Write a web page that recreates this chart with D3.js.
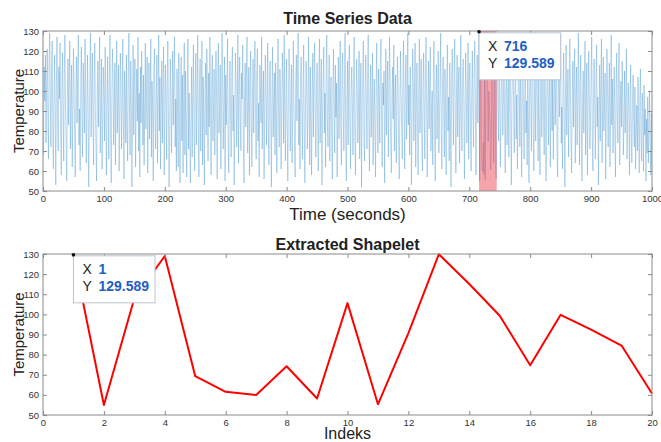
<!doctype html>
<html lang="en">
<head>
<meta charset="UTF-8">
<script src="https://cdn.jsdelivr.net/npm/d3@7"></script>
<style>
  body { margin: 0; background: #fff; }
  svg { font-family: "Liberation Sans", Arial, Helvetica, sans-serif; }
  .axis text { fill: #333; font-size: 9.5px; }
  .axis path, .axis line { stroke: #8a8a8a; }
  .title { font-size: 16px; font-weight: bold; fill: #222; }
  .label { font-size: 17px; fill: #222; }
  .ylabel { font-size: 15px; fill: #222; }
  .tipKey { font-size: 14px; fill: #222; }
  .tipVal { font-size: 14px; font-weight: bold; fill: #1f5fbf; }
</style>
</head>
<body>
<svg id="chart" width="661" height="442"></svg>
<script>
// time series, t = 1..715
let seriesA = [
  68,112,95,118,74,103,121,88,66,115,129,97,72,108,125,83,61,99,118,90,
  53,104,127,85,70,112,96,124,78,58,101,119,87,65,110,128,92,74,55,97,
  116,83,106,125,71,94,113,62,88,121,103,76,57,99,117,84,109,128,73,91,
  60,105,122,89,67,114,98,79,126,102,64,87,118,95,52,83,111,129,77,100,
  119,86,63,108,124,91,72,55,97,115,82,106,127,69,93,116,61,84,112,99,
  75,122,103,58,88,117,94,66,109,128,81,54,96,121,107,73,90,114,63,101,
  125,79,98,113,60,85,119,104,71,93,126,87,56,110,97,74,118,83,65,107,
  129,92,68,115,100,52,89,123,78,105,116,62,94,111,85,127,70,99,57,112,
  84,120,96,73,108,63,91,124,81,102,117,59,88,114,76,98,126,67,105,93,
  55,110,121,86,71,99,118,64,95,128,80,107,61,92,115,74,103,122,58,89,
  113,97,66,104,125,88,52,79,116,101,69,94,120,83,108,127,72,96,60,111,
  87,62,119,91,54,100,117,75,108,59,103,124,68,110,83,57,105,126,71,99,
  76,54,89,112,67,98,123,81,60,104,119,73,95,128,86,57,101,116,70,92,
  125,63,107,88,53,99,114,78,121,96,65,109,82,127,94,58,103,118,75,90,
  111,68,84,120,97,56,106,124,79,92,113,61,87,129,100,71,96,117,55,108,
  83,102,126,74,59,95,115,88,67,110,122,80,98,53,86,119,105,72,93,128,
  64,101,117,85,70,109,96,123,77,54,99,114,82,106,127,69,91,112,58,103,
  120,87,62,97,116,79,105,125,90,66,108,121,75,94,57,113,99,84,127,71,
  93,110,56,88,118,102,73,96,124,81,63,107,115,86,52,100,122,77,95,109,
  68,114,91,59,103,126,84,72,111,97,61,89,119,105,74,128,92,65,101,116,
  82,55,98,121,108,70,93,113,64,87,125,99,76,57,104,118,85,110,129,73,
  96,61,107,117,89,66,100,123,80,54,92,115,103,71,88,127,95,63,112,84,
  58,101,119,77,106,124,90,67,97,114,83,60,109,126,74,94,116,53,88,105,
  122,79,99,62,111,128,86,72,103,118,65,95,107,81,56,100,121,91,69,113,
  87,104,57,93,117,76,98,125,82,63,110,119,89,70,102,129,78,55,96,115,
  73,108,123,84,61,99,112,94,68,105,127,80,58,91,116,101,74,88,120,66,
  97,114,52,86,109,125,79,65,103,118,92,71,107,128,85,60,98,113,77,94,
  119,63,90,106,81,57,101,124,88,69,111,97,74,116,126,83,62,104,93,110,
  54,95,121,78,100,115,67,89,127,103,72,59,98,112,86,123,70,96,108,64,
  85,117,102,73,56,94,120,99,80,66,109,125,88,61,105,118,76,92,129,83,
  103,68,112,96,53,87,121,107,75,98,124,62,90,114,83,58,101,126,79,95,
  116,72,60,104,119,88,66,110,127,93,57,97,115,81,106,122,70,89,100,63,
  108,125,84,55,99,113,76,94,120,69,86,104,129,78,61,102,117,91,67,111,
  92,58,103,123,80,97,65,114,87,52,106,121,96,73,109,126,85,59,99,118,
  77,101,112,64,90,128,83,70,107,116,95,56,88,119,102,74,97,124,66,105,
  114,81,60,99,120,87,72,109,125,93,58,96,118,84,102
];

// extracted shapelet, t = 716..735 (index 1..20 in the lower plot)
let shapelet = [129.589,55,108,129,69.3,61.5,59.9,74.2,58.2,105.6,
                55.3,90.7,129.9,115.1,99.3,74.7,99.8,92.4,84.5,60.7];

// time series, t = 736..1000
let seriesB = [
  71,108,123,89,64,97,115,80,56,103,126,92,75,111,99,62,86,119,105,78,
  94,128,83,59,100,117,73,91,113,67,104,121,88,53,96,110,125,82,69,107,
  118,76,98,61,89,124,102,72,114,93,57,106,127,85,66,101,116,79,95,63,
  110,87,54,99,120,94,70,108,129,81,60,97,112,75,103,122,90,65,115,84,
  58,102,118,77,93,125,86,68,109,96,55,88,121,104,73,99,114,62,91,127,
  80,106,66,95,117,83,101,124,70,57,98,113,87,109,128,74,92,61,105,119,
  85,52,100,123,78,96,111,67,90,126,103,76,59,94,115,82,107,121,64,97,
  112,73,88,129,99,63,104,118,86,55,93,110,79,101,125,68,96,114,58,89,
  120,102,71,84,108,127,77,60,99,116,91,66,105,123,82,97,53,88,113,75,
  103,126,64,92,117,80,95,109,56,86,121,100,72,98,114,62,90,128,83,106,
  69,94,112,78,57,101,119,87,74,108,124,63,91,105,82,115,96,68,86,110,
  79,99,121,66,88,104,92,58,97,113,76,64,95,108,85,72,102,61,80,93,
  70,107,84,59,96,111,74,65,99,88,60,103,78,91,55,86,69,97,64,82,
  100,75,58,89,61
];

let shapeletStart = 716;   // highlighted window in the upper plot
let shapeletEnd = 745;
let topXTicks = [0,100,200,300,400,500,600,700,800,900,1000];
let botXTicks = [0,2,4,6,8,10,12,14,16,18,20];
let yTicks = [50,60,70,80,90,100,110,120,130];

let series = seriesA.concat(shapelet, seriesB);
let svg = d3.select("#chart");

// shared horizontal extent of both axes
let left = 43, right = 652;

// draws the box, ticks and labels of one MATLAB-like axes
function drawAxes(g, x, y, xTicks, top, bottom) {
  let tl = 4;
  g.append("g").attr("class", "axis")
    .attr("transform", "translate(0," + bottom + ")")
    .call(d3.axisBottom(x).tickValues(xTicks).tickSizeInner(-tl).tickSizeOuter(0).tickPadding(4).tickFormat(d3.format("d")));
  g.append("g").attr("class", "axis")
    .attr("transform", "translate(0," + top + ")")
    .call(d3.axisTop(x).tickValues(xTicks).tickSizeInner(-tl).tickSizeOuter(0).tickFormat(""));
  g.append("g").attr("class", "axis")
    .attr("transform", "translate(" + left + ",0)")
    .call(d3.axisLeft(y).tickValues(yTicks).tickSizeInner(-tl).tickSizeOuter(0).tickPadding(4));
  g.append("g").attr("class", "axis")
    .attr("transform", "translate(" + right + ",0)")
    .call(d3.axisRight(y).tickValues(yTicks).tickSizeInner(-tl).tickSizeOuter(0).tickFormat(""));
  g.selectAll(".domain").remove();
  g.append("rect")
    .attr("x", left).attr("y", top)
    .attr("width", right - left).attr("height", bottom - top)
    .attr("fill", "none").attr("stroke", "#8a8a8a").attr("stroke-width", 1);
}

// datatip: black marker plus white box with X / Y values
function drawTip(g, px, py, xVal, yVal) {
  let tip = g.append("g");
  let box = tip.append("rect")
    .attr("x", px).attr("y", py + 1)
    .attr("height", 47)
    .attr("fill", "#fff").attr("stroke", "#b9c4d0").attr("stroke-width", 1);
  tip.append("text").attr("class", "tipKey").attr("x", px + 9).attr("y", py + 19).text("X");
  tip.append("text").attr("class", "tipKey").attr("x", px + 9).attr("y", py + 36).text("Y");
  let v1 = tip.append("text").attr("class", "tipVal").attr("x", px + 25).attr("y", py + 19).text(xVal);
  let v2 = tip.append("text").attr("class", "tipVal").attr("x", px + 25).attr("y", py + 36).text(yVal);
  let w = Math.max(v1.node().getComputedTextLength(), v2.node().getComputedTextLength());
  box.attr("width", w + 31);
  tip.append("circle").attr("cx", px).attr("cy", py).attr("r", 1.8).attr("fill", "#111");
}

// ---- upper plot: full time series ----
let topT = 31, topB = 191;
let x1 = d3.scaleLinear().domain([0, 1000]).range([left, right]);
let y1 = d3.scaleLinear().domain([50, 130]).range([topB, topT]);
let g1 = svg.append("g");

g1.append("clipPath").attr("id", "clip1")
  .append("rect").attr("x", left).attr("y", topT).attr("width", right - left).attr("height", topB - topT);

g1.append("path")
  .datum(series)
  .attr("clip-path", "url(#clip1)")
  .attr("fill", "none")
  .attr("stroke", "#2f86c8")
  .attr("stroke-width", 0.5)
  .attr("stroke-opacity", 0.65)
  .attr("d", d3.line().x(function(d, i) { return x1(i + 1); }).y(function(d) { return y1(d); }));

g1.append("rect")
  .attr("x", x1(shapeletStart)).attr("y", topT)
  .attr("width", x1(shapeletEnd) - x1(shapeletStart)).attr("height", topB - topT)
  .attr("fill", "#ee3344").attr("fill-opacity", 0.45);

drawAxes(g1, x1, y1, topXTicks, topT, topB);

g1.append("text").attr("class", "title").attr("x", (left + right) / 2).attr("y", 24)
  .attr("text-anchor", "middle").text("Time Series Data");
g1.append("text").attr("class", "label").attr("x", (left + right) / 2).attr("y", 220)
  .attr("text-anchor", "middle").text("Time (seconds)");
g1.append("text").attr("class", "ylabel")
  .attr("transform", "translate(24," + (topT + topB) / 2 + ") rotate(-90)")
  .attr("text-anchor", "middle").text("Temperature");

drawTip(g1, x1(shapeletStart), y1(shapelet[0]), "716", "129.589");

// ---- lower plot: extracted shapelet ----
let botT = 254, botB = 415;
let x2 = d3.scaleLinear().domain([0, 20]).range([left, right]);
let y2 = d3.scaleLinear().domain([50, 130]).range([botB, botT]);
let g2 = svg.append("g");

g2.append("path")
  .datum(shapelet)
  .attr("fill", "none")
  .attr("stroke", "#ff0000")
  .attr("stroke-width", 2)
  .attr("stroke-linejoin", "round")
  .attr("d", d3.line().x(function(d, i) { return x2(i + 1); }).y(function(d) { return y2(d); }));

drawAxes(g2, x2, y2, botXTicks, botT, botB);

g2.append("text").attr("class", "title").attr("x", (left + right) / 2).attr("y", 250)
  .attr("text-anchor", "middle").text("Extracted Shapelet");
g2.append("text").attr("class", "label").attr("x", (left + right) / 2).attr("y", 439)
  .attr("text-anchor", "middle").style("font-size", "16px").text("Indeks");
g2.append("text").attr("class", "ylabel")
  .attr("transform", "translate(24," + (botT + botB) / 2 + ") rotate(-90)")
  .attr("text-anchor", "middle").text("Temperature");

drawTip(g2, x2(1), y2(shapelet[0]), "1", "129.589");
</script>
</body>
</html>
